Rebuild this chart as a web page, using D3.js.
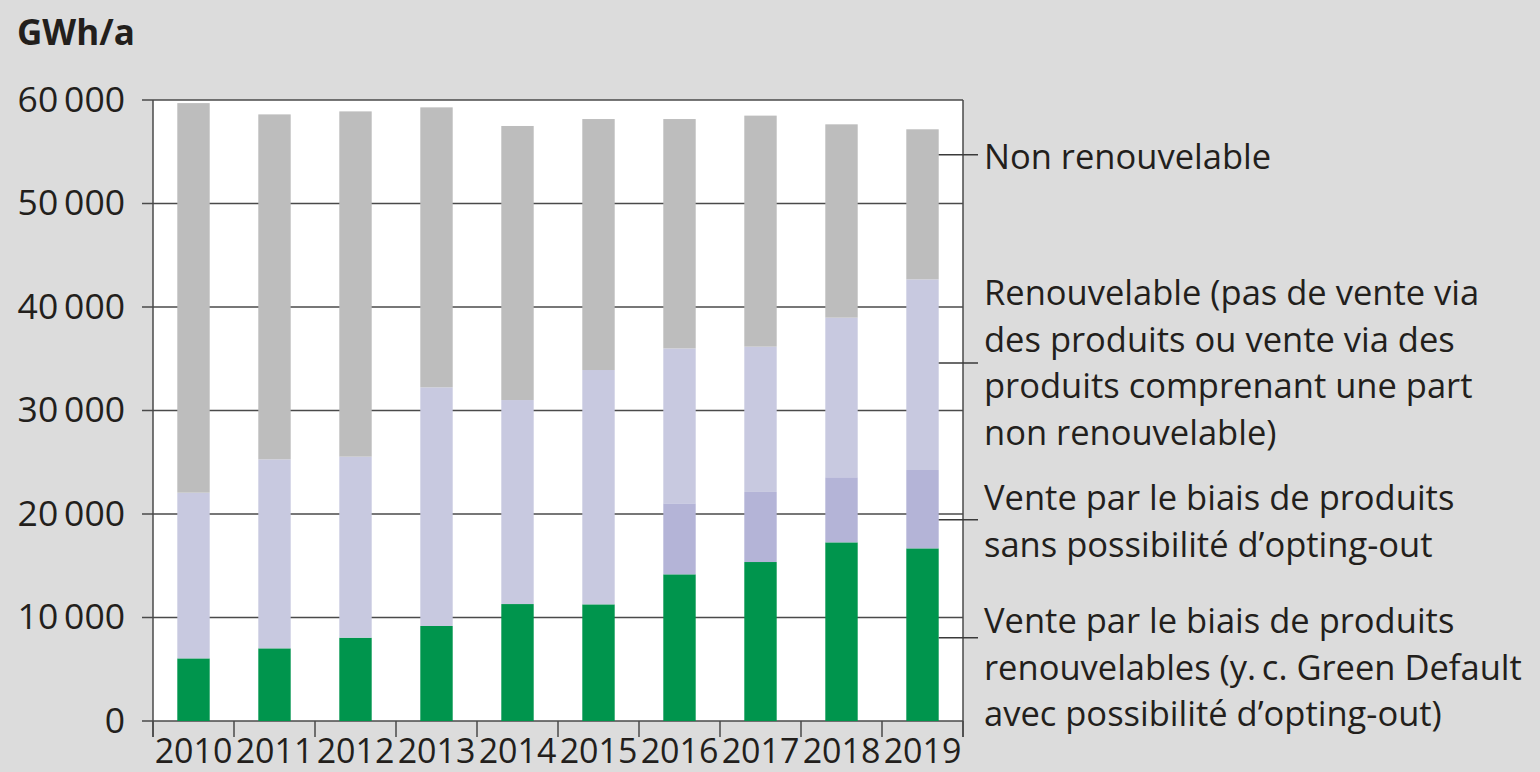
<!DOCTYPE html>
<html lang="fr">
<head>
  <meta charset="UTF-8">
  <title>GWh/a</title>
  <script src="https://d3js.org/d3.v7.min.js"></script>
  <style>
    body { margin: 0; background: #dcdcdc; }
    svg { display: block; font-family: "Open Sans", sans-serif; }
    .axis path { display: none; }
  </style>
</head>
<body>
  <script>
    // Years and series (GWh/a), stacked from bottom to top
    const years = ["2010", "2011", "2012", "2013", "2014", "2015", "2016", "2017", "2018", "2019"];
    const greenProducts = [6050, 7020, 8050, 9180, 11300, 11270, 14170, 15360, 17260, 16680];
    const noOptOut = [0, 0, 0, 0, 0, 0, 6860, 6770, 6290, 7570];
    const otherRenewable = [16010, 18260, 17490, 23060, 19710, 22640, 14970, 14040, 15420, 18420];
    const nonRenewable = [37640, 33330, 33360, 27050, 26480, 24250, 22160, 22320, 18680, 14500];
    const yTicks = [0, 10000, 20000, 30000, 40000, 50000, 60000];

    // legend labels (top to bottom) and the value their leader line points at
    const legendLabels = [
      ["Non renouvelable"],
      ["Renouvelable (pas de vente via", "des produits ou vente via des", "produits comprenant une part", "non renouvelable)"],
      ["Vente par le biais de produits", "sans possibilité d’opting-out"],
      ["Vente par le biais de produits", "renouvelables (y.\u2009c. Green Default", "avec possibilité d’opting-out)"]
    ];
    const leaderValues = [54700, 34600, 19450, 8050];

    const keys = ["green", "noOpt", "other", "nonRen"];
    const colors = { green: "#00954d", noOpt: "#b4b4d7", other: "#c8c9e0", nonRen: "#bdbdbd" };

    const rows = years.map((yr, i) => ({
      year: yr,
      green: greenProducts[i],
      noOpt: noOptOut[i],
      other: otherRenewable[i],
      nonRen: nonRenewable[i]
    }));

    const margin = { top: 100, right: 577, bottom: 51, left: 153 },
          width = 1540 - margin.left - margin.right,
          height = 772 - margin.top - margin.bottom;

    const root = d3.select("body").append("svg")
      .attr("width", 1540)
      .attr("height", 772);

    root.append("text")
      .attr("x", 17)
      .attr("y", 45)
      .attr("font-size", "35px")
      .attr("font-weight", "bold")
      .attr("fill", "#231f1c")
      .text("GWh/a");

    const svg = root.append("g")
      .attr("transform", `translate(${margin.left},${margin.top})`);

    const x = d3.scaleBand()
      .domain(years)
      .range([0, width])
      .paddingInner(0.6)
      .paddingOuter(0.3);

    const y = d3.scaleLinear()
      .domain([0, 60000])
      .range([height, 0]);

    // plot background
    svg.append("rect")
      .attr("width", width)
      .attr("height", height)
      .attr("fill", "#ffffff");

    // gridlines + y ticks
    svg.append("g")
      .selectAll("line")
      .data(yTicks)
      .join("line")
      .attr("x1", -11)
      .attr("x2", width)
      .attr("y1", d => y(d))
      .attr("y2", d => y(d))
      .attr("stroke", "#4a4a4a")
      .attr("stroke-width", 1.5);

    // stacked bars
    const stack = d3.stack().keys(keys);
    svg.append("g")
      .selectAll("g")
      .data(stack(rows))
      .join("g")
      .attr("fill", d => colors[d.key])
      .selectAll("rect")
      .data(d => d)
      .join("rect")
      .attr("x", d => x(d.data.year))
      .attr("width", x.bandwidth())
      .attr("y", d => y(d[1]))
      .attr("height", d => y(d[0]) - y(d[1]));

    // y axis labels
    const yAxis = d3.axisLeft(y)
      .tickValues(yTicks)
      .tickSize(11)
      .tickPadding(17)
      .tickFormat(d => d3.format(",")(d).replace(/,/g, "\u2009"));
    svg.append("g")
      .attr("class", "axis")
      .call(yAxis)
      .call(g => g.selectAll(".tick line").remove())
      .call(g => g.selectAll("text")
        .attr("font-size", "35.5px")
        .attr("font-family", "Open Sans, sans-serif")
        .attr("fill", "#231f1c"));

    // x axis labels
    const xAxis = d3.axisBottom(x).tickSize(0).tickPadding(18);
    svg.append("g")
      .attr("class", "axis")
      .attr("transform", `translate(0,${height})`)
      .call(xAxis)
      .call(g => g.selectAll("text")
        .attr("font-size", "34px")
        .attr("font-family", "Open Sans, sans-serif")
        .attr("fill", "#231f1c"));

    // category boundary ticks
    const step = x.step();
    const x0 = x(years[0]) - step * x.paddingOuter();
    svg.append("g")
      .selectAll("line")
      .data(d3.range(years.length + 1))
      .join("line")
      .attr("x1", i => x0 + i * step)
      .attr("x2", i => x0 + i * step)
      .attr("y1", height)
      .attr("y2", height + 16)
      .attr("stroke", "#4a4a4a")
      .attr("stroke-width", 1.5);

    // left and right frame lines
    svg.append("g")
      .selectAll("line")
      .data([0, width])
      .join("line")
      .attr("x1", d => d)
      .attr("x2", d => d)
      .attr("y1", 0)
      .attr("y2", height + 16)
      .attr("stroke", "#4a4a4a")
      .attr("stroke-width", 1.5);

    // legend with leader lines
    const lastBarRight = x(years[years.length - 1]) + x.bandwidth();
    const textX = width + 21;
    const lineH = 46.7;
    const firstBaselines = [69, 205, 410, 533];

    const legend = svg.append("g")
      .selectAll("g")
      .data(legendLabels)
      .join("g");

    legend.append("line")
      .attr("x1", lastBarRight)
      .attr("x2", width + 15)
      .attr("y1", (d, i) => y(leaderValues[i]))
      .attr("y2", (d, i) => y(leaderValues[i]))
      .attr("stroke", "#3a3a3a")
      .attr("stroke-width", 1.5);

    legend.append("text")
      .attr("font-size", "34.5px")
      .attr("fill", "#231f1c")
      .selectAll("tspan")
      .data((d, i) => d.map((t, j) => ({ t, yy: firstBaselines[i] + j * lineH })))
      .join("tspan")
      .attr("x", textX)
      .attr("y", d => d.yy)
      .text(d => d.t);
  </script>
</body>
</html>
